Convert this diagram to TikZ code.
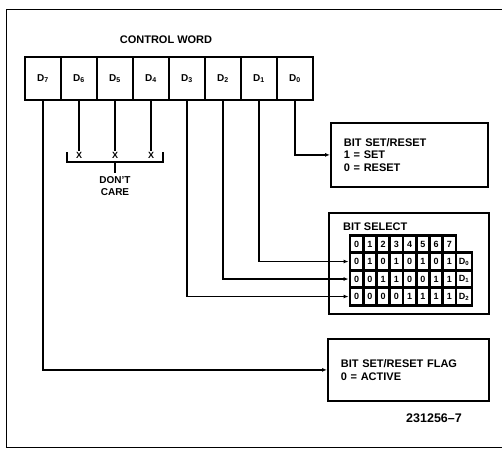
\documentclass[tikz,border=0pt]{standalone}
\usepackage{fontspec}
\setmainfont{Liberation Sans}
\usetikzlibrary{arrows.meta}

\tikzset{
  regcell/.style={draw, line width=1.6pt, minimum width=36pt, minimum height=43pt, inner sep=0pt, font=\bfseries\fontsize{10}{12}\selectfont},
  panel/.style={draw, line width=1.8pt, inner xsep=13pt, align=left, anchor=north west, font=\bfseries\fontsize{11}{12.5}\selectfont},
  selcell/.style={draw, line width=2.8pt, fill=white, minimum width=13.25pt, minimum height=17.5pt, inner sep=0pt, font=\bfseries\fontsize{9}{10}\selectfont},
  wire/.style={line width=1.2pt},
  feed/.style={wire, -{Latex[length=5pt,width=4pt]}},
}

\begin{document}
\begin{tikzpicture}[x=1pt, y=-1pt]
  \useasboundingbox (0,0) rectangle (502,451);

  % open frame
  \draw[line width=0.8pt] (502,9) -- (6,9) -- (6,447) -- (502,447);

  % control word register
  \node[font=\bfseries\fontsize{11}{12}\selectfont] (title) at (166,40) {CONTROL WORD};
  \foreach \i in {0,...,7}{
    \pgfmathtruncatemacro{\bit}{7-\i}
    \node[regcell] (d\bit) at (43+36*\i,78.5) {D\textsubscript{\bit}};
  }

  % don't care bits
  \coordinate (xrow) at (0,155);
  \foreach \b in {6,5,4}{
    \node[font=\bfseries\fontsize{9}{10}\selectfont, inner sep=1pt] (x\b) at (d\b |- xrow) {X};
    \draw[wire] (d\b.south) -- (x\b.north);
  }
  \draw[wire] (67,152) -- (67,162) -- (163,162) -- (163,152);
  \coordinate (bracemid) at (x5 |- 0,162);
  \node[font=\bfseries\fontsize{10}{12}\selectfont, align=center] (dontcare) at (115,186) {DON'T\\CARE};
  \draw[wire] (bracemid) -- (dontcare.north);

  % set / reset box
  \node[panel, minimum width=157pt, minimum height=64pt, text width=131pt] (setreset) at (330,122)
    {BIT SET/RESET\\1 = SET\\0 = RESET};
  \draw[feed] (d0.south) |- (setreset.west);

  % bit select box
  \node[panel, minimum width=160pt, minimum height=101pt] (bitsel) at (328,212) {};
  \node[anchor=west, inner sep=0pt, font=\bfseries\fontsize{11}{12}\selectfont] (seltitle) at (343,227) {BIT SELECT};
  \foreach \d [count=\c from 0] in {0,...,7}
    \node[selcell] (h\c) at (356.6+13.25*\c,244) {\d};
  \foreach \r/\bits in {0/{0,1,0,1,0,1,0,1}, 1/{0,0,1,1,0,0,1,1}, 2/{0,0,0,0,1,1,1,1}}{
    \foreach \v [count=\c from 0] in \bits
      \node[selcell] (s\r-\c) at (356.6+13.25*\c,261.5+17.5*\r) {\v};
    \node[selcell, minimum width=16pt] (s\r-d) at (464,261.5+17.5*\r) {D\textsubscript{\r}};
  }
  \draw[feed] (d1.south) |- (s0-0.west);
  \draw[feed] (d2.south) |- (s1-0.west);
  \draw[feed] (d3.south) |- (s2-0.west);

  % flag box
  \node[panel, minimum width=161pt, minimum height=62pt, text width=135pt] (flag) at (327,338)
    {BIT SET/RESET FLAG\\0 = ACTIVE};
  \draw[feed] (d7.south) |- (flag.west);

  \node[font=\bfseries\fontsize{12.5}{14}\selectfont] (fignum) at (434,418) {231256--7};

\end{tikzpicture}
\end{document}
